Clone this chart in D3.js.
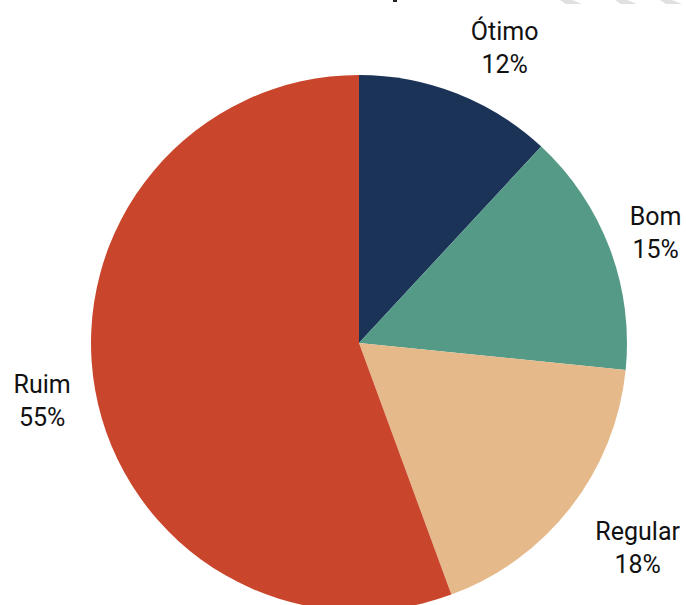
<!DOCTYPE html>
<html><head><meta charset="utf-8">
<script src="https://cdn.jsdelivr.net/npm/d3@7"></script>
<style>body{margin:0;background:#fff}svg{display:block}</style>
</head><body>
<script>
const categories = ["Ótimo", "Bom", "Regular", "Ruim"];
const values = [11.9, 14.7, 17.8, 55.6];
const percentLabels = ["12%", "15%", "18%", "55%"];
const colors = ["#1c3358", "#549a86", "#e5b98a", "#c9462c"];
// label placement (angle offset in degrees from slice middle, distance from centre)
const labelAngleOffset = [5.5, 1.8, -0.4, -1.85];
const labelDist = [321.6, 313.5, 350.8, 323.9];

const W = 686, H = 605, cx = 359, cy = 343, R = 268;
const svg = d3.select("body").append("svg").attr("width", W).attr("height", H);

// decorative light stripes at top right (cropped background)
const stripes = svg.append("g").attr("fill", "#e0e0e0");
[560, 615, 660].forEach(x => {
  stripes.append("polygon").attr("points", `${x},0 ${x+12},0 ${x+22},4 ${x+6},4`);
});
svg.append("rect").attr("x", 393).attr("y", 0).attr("width", 4).attr("height", 2).attr("fill", "#222");

const pie = d3.pie().sort(null).value(d => d)(values);
const arc = d3.arc().innerRadius(0).outerRadius(R);
const g = svg.append("g").attr("transform", `translate(${cx},${cy})`);
g.selectAll("path").data(pie).join("path")
  .attr("d", arc).attr("fill", (d, i) => colors[i]);

const lab = g.selectAll("text").data(pie).join("text")
  .attr("text-anchor", "middle")
  .attr("font-family", "Roboto, sans-serif")
  .attr("font-size", 25)
  .attr("fill", "#111")
  .attr("transform", (d, i) => {
    const a = (d.startAngle + d.endAngle) / 2 + labelAngleOffset[i] * Math.PI / 180;
    return `translate(${labelDist[i] * Math.sin(a)},${-labelDist[i] * Math.cos(a)})`;
  });
lab.append("tspan").attr("x", 0).attr("y", -16.5).text((d, i) => categories[i]);
lab.append("tspan").attr("x", 0).attr("y", 16.5).text((d, i) => percentLabels[i]);
</script>
</body></html>
